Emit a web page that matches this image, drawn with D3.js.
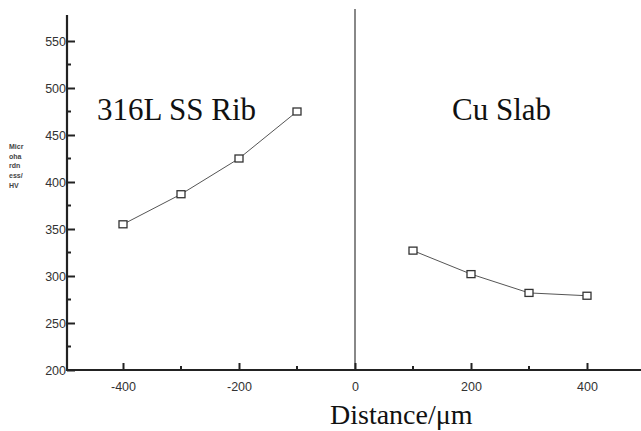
<!DOCTYPE html>
<html>
<head>
<meta charset="utf-8">
<script src="https://cdn.jsdelivr.net/npm/d3@7"></script>
<style>
  body { margin: 0; background: #fff; }
  svg { display: block; }
</style>
</head>
<body>
<div id="chart"></div>
<script>
const ribDistance = [-400, -300, -200, -100];
const ribHardness = [355, 387, 425, 475];
const slabDistance = [100, 200, 300, 400];
const slabHardness = [327, 302, 282, 279];
const xTicks = [-400, -200, 0, 200, 400];
const xMinor = [-300, -100, 100, 300];
const yTicks = [200, 250, 300, 350, 400, 450, 500, 550];
const yMinor = [225, 275, 325, 375, 425, 475, 525];
const yLabelLines = ["Micr", "oha", "rdn", "ess/", "HV"];

const width = 641;
const height = 431;

const svg = d3.select("#chart")
  .append("svg")
  .attr("width", width)
  .attr("height", height);

const x = d3.scaleLinear().domain([-500, 500]).range([65, 645]);
const y = d3.scaleLinear().domain([200, 550]).range([370, 41]);

const ink = "#222";
const serif = "Liberation Serif, Times New Roman, serif";

// vertical divider at 0
svg.append("line")
  .attr("x1", x(0)).attr("x2", x(0))
  .attr("y1", 9).attr("y2", y(200))
  .attr("stroke", "#888")
  .attr("stroke-width", 2);

// y axis
const yAxis = d3.axisLeft(y).tickValues(yTicks).tickSize(-8).tickPadding(2)
  .tickFormat(d => String(d));
const yG = svg.append("g")
  .attr("transform", `translate(${x(-500) + 2},0)`)
  .call(yAxis);
yG.select(".domain").remove();
yG.selectAll(".tick line").attr("stroke", ink).attr("stroke-width", 2);
yG.selectAll(".tick text")
  .attr("x", -1)
  .attr("font-family", "Liberation Sans, Arial, sans-serif")
  .attr("font-size", 12.5)
  .attr("fill", "#333");

svg.append("line")
  .attr("x1", x(-500) + 2).attr("x2", x(-500) + 2)
  .attr("y1", 15).attr("y2", y(200) + 1)
  .attr("stroke", ink).attr("stroke-width", 2.2);

svg.selectAll(".ymin")
  .data(yMinor)
  .join("line")
  .attr("class", "ymin")
  .attr("x1", x(-500) + 2).attr("x2", x(-500) + 6)
  .attr("y1", d => y(d)).attr("y2", d => y(d))
  .attr("stroke", ink).attr("stroke-width", 2);

// x axis
const xAxis = d3.axisBottom(x).tickValues(xTicks).tickSize(-7).tickPadding(12)
  .tickFormat(d => String(d));
const xG = svg.append("g")
  .attr("transform", `translate(0,${y(200)})`)
  .call(xAxis);
xG.select(".domain").remove();
xG.selectAll(".tick line").attr("stroke", ink).attr("stroke-width", 2);
xG.selectAll(".tick text")
  .attr("font-family", "Liberation Sans, Arial, sans-serif")
  .attr("font-size", 12.5)
  .attr("fill", "#333");

svg.append("line")
  .attr("x1", x(-500) + 1).attr("x2", width)
  .attr("y1", y(200)).attr("y2", y(200))
  .attr("stroke", ink).attr("stroke-width", 2.2);

svg.selectAll(".xmin")
  .data(xMinor)
  .join("line")
  .attr("class", "xmin")
  .attr("x1", d => x(d)).attr("x2", d => x(d))
  .attr("y1", y(200)).attr("y2", y(200) - 4)
  .attr("stroke", ink).attr("stroke-width", 2);

// series
const lineGen = d3.line().x(d => x(d[0])).y(d => y(d[1]));
const series = [
  d3.zip(ribDistance, ribHardness),
  d3.zip(slabDistance, slabHardness)
];

series.forEach(pts => {
  svg.append("path")
    .datum(pts)
    .attr("fill", "none")
    .attr("stroke", "#555")
    .attr("stroke-width", 1)
    .attr("d", lineGen);

  svg.selectAll(null)
    .data(pts)
    .join("rect")
    .attr("x", d => x(d[0]) - 4)
    .attr("y", d => y(d[1]) - 3.5)
    .attr("width", 8)
    .attr("height", 7)
    .attr("fill", "#fff")
    .attr("stroke", "#333")
    .attr("stroke-width", 1.3);
});

// region labels
svg.append("text")
  .attr("x", 97).attr("y", 120)
  .attr("font-family", serif)
  .attr("font-size", 31)
  .attr("fill", "#111")
  .text("316L SS Rib");

svg.append("text")
  .attr("x", 452).attr("y", 120)
  .attr("font-family", serif)
  .attr("font-size", 31)
  .attr("fill", "#111")
  .text("Cu Slab");

// x label
svg.append("text")
  .attr("x", 330).attr("y", 424)
  .attr("font-family", serif)
  .attr("font-size", 28)
  .attr("fill", "#111")
  .text("Distance/μm");

// y label (tiny stacked)
svg.append("text")
  .attr("font-family", "Liberation Sans Narrow, Arial Narrow, Liberation Sans, sans-serif")
  .attr("font-size", 7)
  .attr("font-weight", "bold")
  .attr("fill", "#444")
  .selectAll("tspan")
  .data(yLabelLines)
  .join("tspan")
  .attr("x", 9)
  .attr("y", (d, i) => 149 + i * 9.7)
  .text(d => d);
</script>
</body>
</html>
